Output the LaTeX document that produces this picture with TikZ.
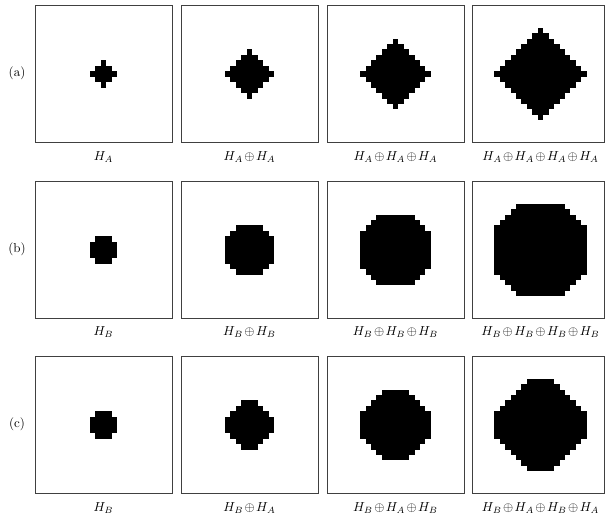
\documentclass[tikz,border=0pt]{standalone}
\newcommand{\op}{\mskip2mu{\oplus}\mskip2mu}
\newcommand{\lab}[1]{\scalebox{1.3}{$#1$}}
\newcommand{\rowlab}[1]{\scalebox{1.3}{#1}}
\newcommand{\blob}[4]{%
  \foreach \h [count=\i from 0] in {#4} {
    \fill[black] ({#1-(\h+0.5)*5.45},{#2+(\i-#3-0.5)*5.45}) rectangle ({#1+(\h+0.5)*5.45},{#2+(\i-#3+0.5)*5.45});
  }}
\begin{document}
\begin{tikzpicture}[x=1pt,y=-1pt,
  panel/.style={draw=black!75, line width=0.9pt, inner sep=0pt, minimum width=137pt, minimum height=137pt},
  lastpanel/.style={panel, minimum width=132pt},
  caplab/.style={inner sep=0pt}]
\useasboundingbox (0,0) rectangle (605,519);
% panels
\foreach \r/\y in {a/73.5, b/249.5, c/424.5} {
  \node[panel] (\r1) at (103.5,\y) {};
  \node[panel] (\r2) at (249.5,\y) {};
  \node[panel] (\r3) at (395.5,\y) {};
  \node[lastpanel] (\r4) at (538.5,\y) {};
}
% row labels
\node[caplab] (la) at (17,73.5) {\rowlab{(a)}};
\node[caplab] (lb) at (17,249.5) {\rowlab{(b)}};
\node[caplab] (lc) at (17,424.5) {\rowlab{(c)}};
% row a
\blob{103.5}{74}{2}{0,1,2,1,0}
\blob{249.5}{74}{4}{0,1,2,3,4,3,2,1,0}
\blob{395.5}{74}{6}{0,1,2,3,4,5,6,5,4,3,2,1,0}
\blob{540.5}{74}{8}{0,1,2,3,4,5,6,7,8,7,6,5,4,3,2,1,0}
% row b
\blob{103.5}{250}{2}{1,2,2,2,1}
\blob{249.5}{250}{4}{2,3,4,4,4,4,4,3,2}
\blob{395.5}{250}{6}{3,4,5,6,6,6,6,6,6,6,5,4,3}
\blob{540.5}{250}{8}{4,5,6,7,8,8,8,8,8,8,8,8,8,7,6,5,4}
% row c
\blob{103.5}{425}{2}{1,2,2,2,1}
\blob{249.5}{425}{4}{1,2,3,4,4,4,3,2,1}
\blob{395.5}{425}{6}{2,3,4,5,6,6,6,6,6,5,4,3,2}
\blob{540.5}{425}{8}{2,3,4,5,6,7,8,8,8,8,8,7,6,5,4,3,2}
% captions
\node[caplab] (ca1) at (103.5,157) {\lab{H_A}};
\node[caplab] (ca2) at (249.5,157) {\lab{H_A\op H_A}};
\node[caplab] (ca3) at (395.5,157) {\lab{H_A\op H_A\op H_A}};
\node[caplab] (ca4) at (540.5,157) {\lab{H_A\op H_A\op H_A\op H_A}};
\node[caplab] (cb1) at (103.5,332) {\lab{H_B}};
\node[caplab] (cb2) at (249.5,332) {\lab{H_B\op H_B}};
\node[caplab] (cb3) at (395.5,332) {\lab{H_B\op H_B\op H_B}};
\node[caplab] (cb4) at (540.5,332) {\lab{H_B\op H_B\op H_B\op H_B}};
\node[caplab] (cc1) at (103.5,508) {\lab{H_B}};
\node[caplab] (cc2) at (249.5,508) {\lab{H_B\op H_A}};
\node[caplab] (cc3) at (395.5,508) {\lab{H_B\op H_A\op H_B}};
\node[caplab] (cc4) at (540.5,508) {\lab{H_B\op H_A\op H_B\op H_A}};
\end{tikzpicture}
\end{document}
